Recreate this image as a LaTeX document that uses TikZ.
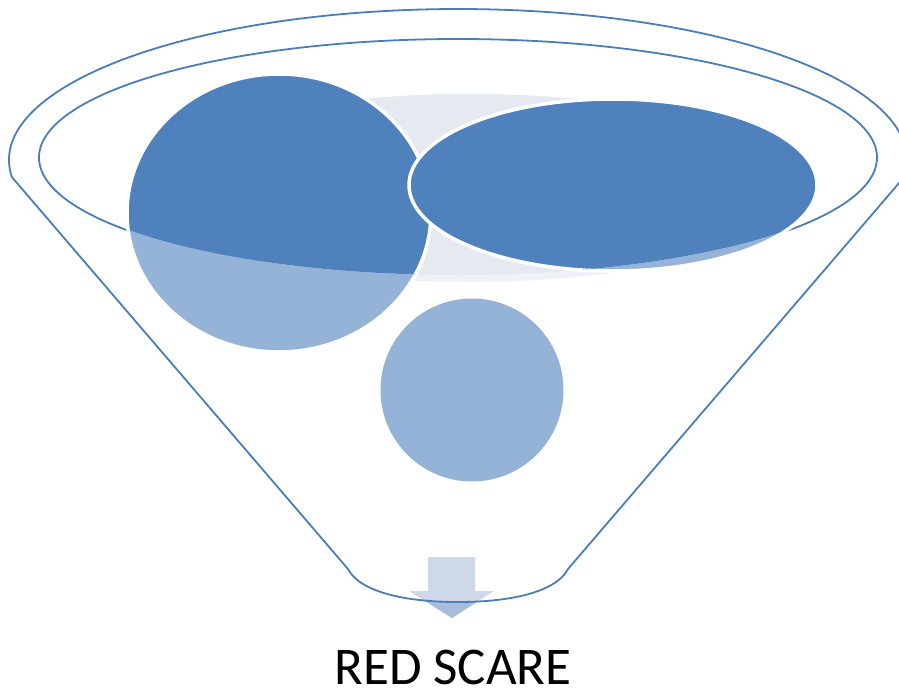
\documentclass[tikz,border=0pt]{standalone}
\usepackage{fontspec}
\setmainfont{Carlito}
\definecolor{darkb}{HTML}{4F81BD}
\definecolor{lightb}{HTML}{95B3D7}
\definecolor{grayin}{HTML}{E4E9F2}
\definecolor{grayout}{HTML}{EEF1F7}
\definecolor{arrowlt}{HTML}{CFD8E9}
\definecolor{arrowdk}{HTML}{A9BCDB}
\definecolor{linec}{HTML}{4A7EBB}
\tikzset{
  outline/.style={draw=linec, line width=1.8pt},
  blob/.style={draw=white, line width=3.5pt},
}
\begin{document}
\begin{tikzpicture}[x=1pt,y=-1pt]
\useasboundingbox (0,0) rectangle (899,694);
% inner rim of the funnel
\draw[outline] (458,157.5) ellipse [x radius=419, y radius=118.5];
% light (outside rim) versions
\fill[grayout] (470,188) ellipse [x radius=330, y radius=94];
\path[blob, fill=lightb] (279,213) ellipse [x radius=152, y radius=139];
\path[blob, fill=lightb] (613,185) ellipse [x radius=204, y radius=86];
\fill[lightb] (472,390) circle [radius=91.5];
% dark (inside rim) versions
\begin{scope}
  \clip (458,157.5) ellipse [x radius=418, y radius=117.5];
  \fill[grayin] (470,188) ellipse [x radius=330, y radius=94];
  \path[blob, fill=darkb] (279,213) ellipse [x radius=152, y radius=139];
  \path[blob, fill=darkb] (613,185) ellipse [x radius=204, y radius=86];
\end{scope}
% arrow
\fill[arrowlt] (428,557) -- (475,557) -- (475,591) -- (494,591) -- (452,618) -- (409,591) -- (428,591) -- cycle;
\begin{scope}
  \clip (348,569) .. controls (360,592) and (405,602) .. (458,602)
        .. controls (511,602) and (556,592) .. (568,569) -- (568,694) -- (348,694) -- cycle;
  \fill[arrowdk] (428,557) -- (475,557) -- (475,591) -- (494,591) -- (452,618) -- (409,591) -- (428,591) -- cycle;
\end{scope}
% funnel outline
\draw[outline, line join=round] (11.9,177.1) arc[start angle=173.5, end angle=366.5, x radius=449, y radius=151]
  -- (568,569) .. controls (556,592) and (511,602) .. (458,602)
  .. controls (405,602) and (360,592) .. (348,569) -- cycle;
\node[anchor=base, font=\fontsize{53}{60}\selectfont, inner sep=0pt] (label) at (453,684) {RED SCARE};
\end{tikzpicture}
\end{document}
